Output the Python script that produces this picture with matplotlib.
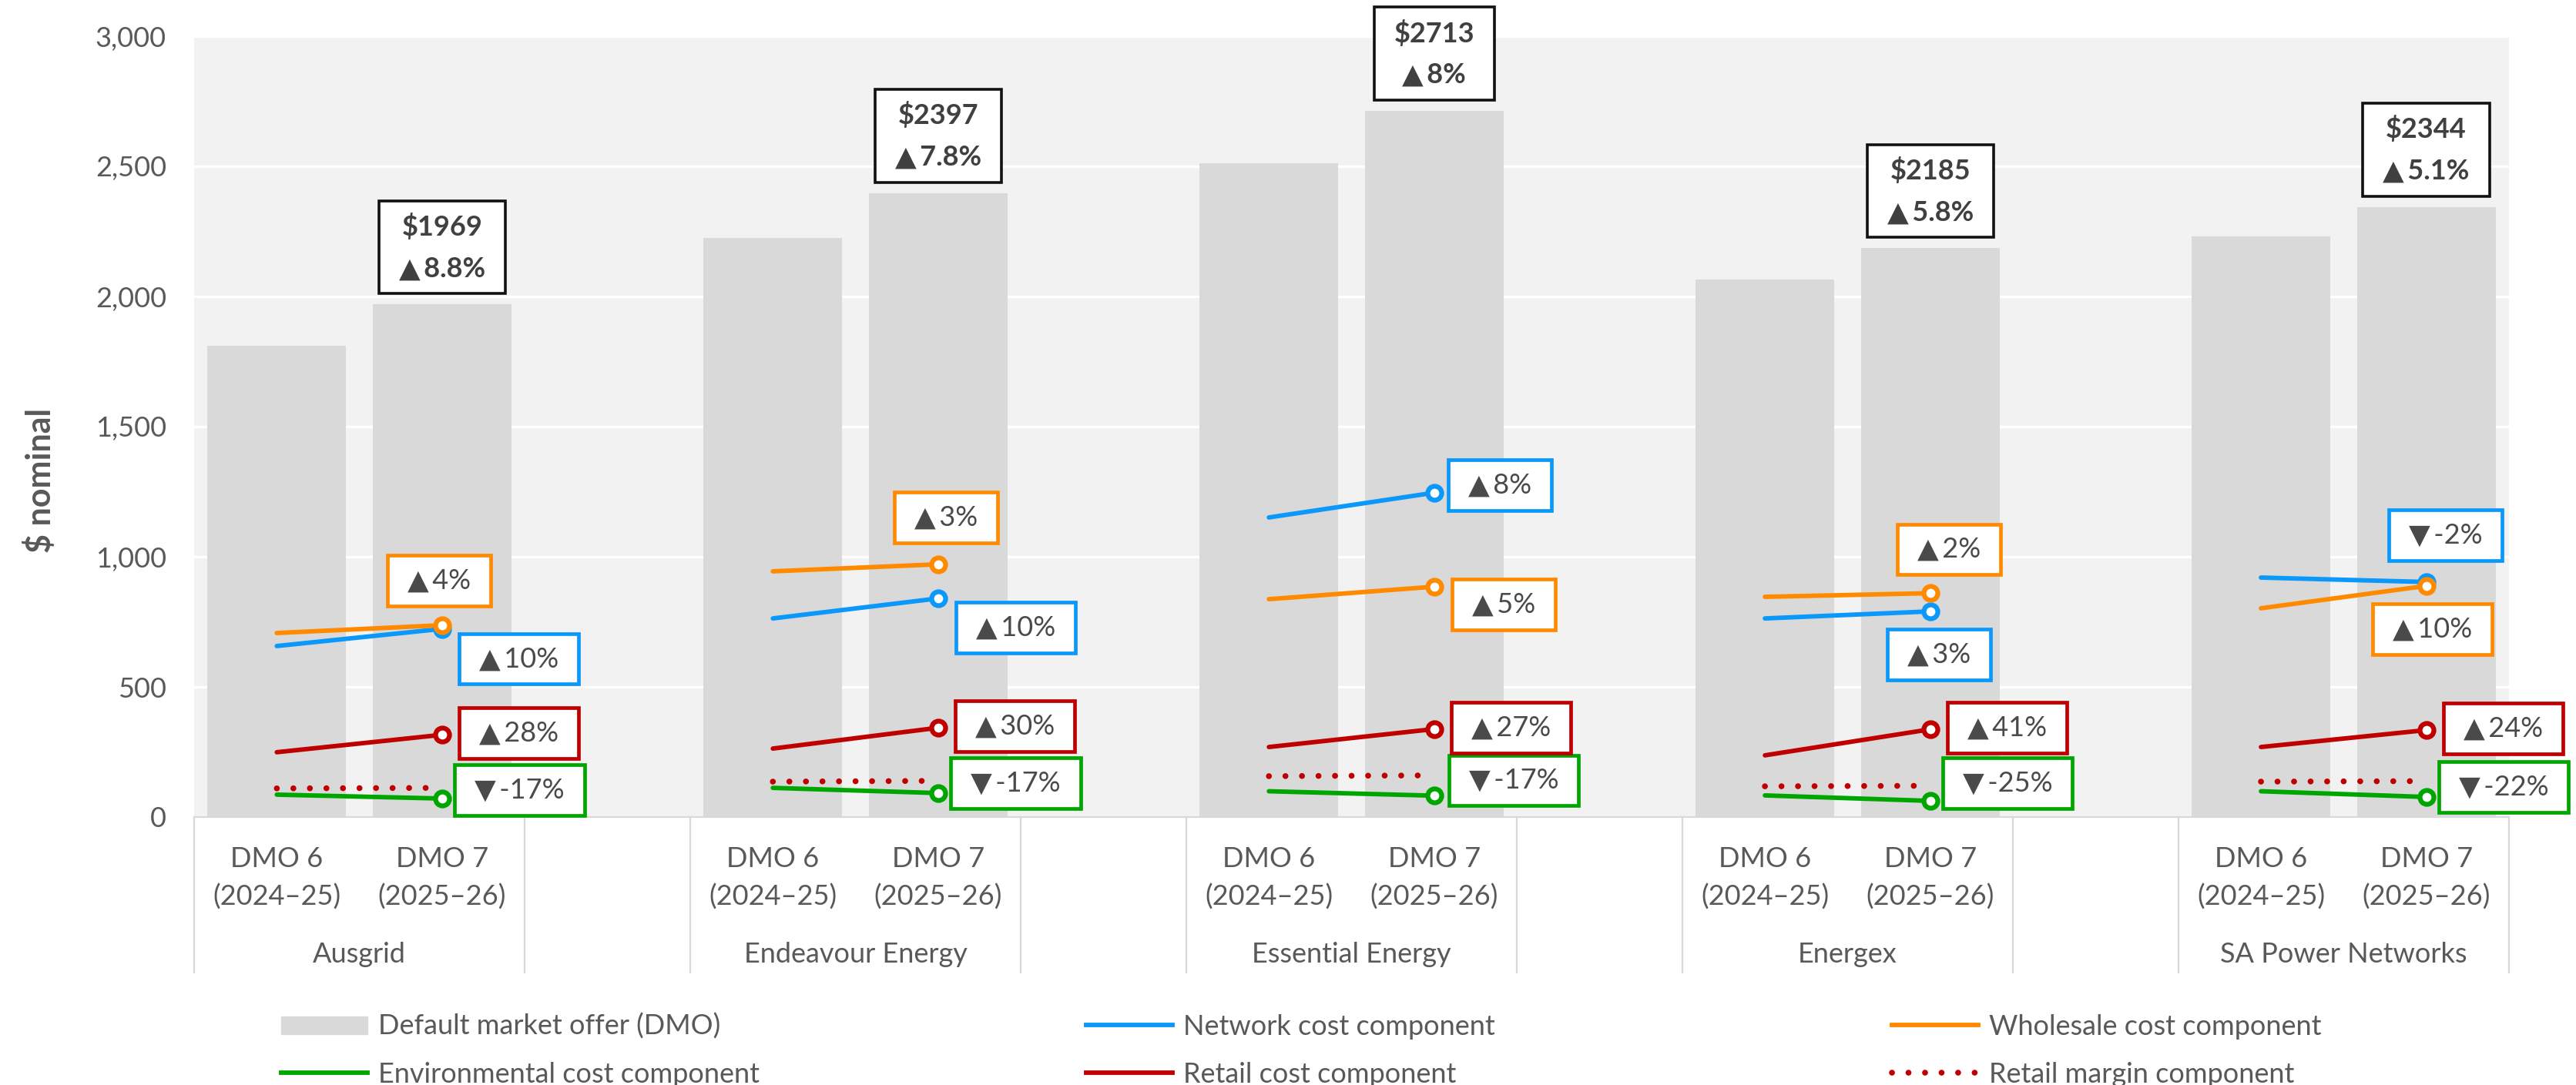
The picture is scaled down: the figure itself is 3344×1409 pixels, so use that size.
import matplotlib
matplotlib.use('Agg')
import matplotlib.pyplot as plt
import matplotlib.transforms as mtransforms
from matplotlib.lines import Line2D
from matplotlib.patches import Patch
from matplotlib.path import Path
import numpy as np

plt.rcParams['font.family'] = ['Lato', 'DejaVu Sans']

# --- data ($ nominal) ---
networks = ['Ausgrid', 'Endeavour Energy', 'Essential Energy', 'Energex', 'SA Power Networks']
period_names = ['DMO 6', 'DMO 7']
period_years = ['(2024–25)', '(2025–26)']

dmo6 = [1810, 2224, 2511, 2066, 2230]
dmo7 = [1969, 2397, 2713, 2185, 2344]
dmo_change = ['8.8%', '7.8%', '8%', '5.8%', '5.1%']

network6 = [657, 763, 1151, 763, 920]
network7 = [723, 840, 1246, 790, 903]
wholesale6 = [707, 944, 837, 846, 802]
wholesale7 = [737, 971, 885, 860, 888]
retail6 = [249, 263, 269, 237, 269]
retail7 = [316, 343, 338, 337, 334]
env6 = [86, 112, 99, 83, 99]
env7 = [71, 92, 82, 62, 77]
margin6 = [110, 136, 157, 118, 136]
margin7 = [112, 139, 160, 120, 138]

network_pct = [10, 10, 8, 3, -2]
wholesale_pct = [4, 3, 5, 2, 10]
retail_pct = [28, 30, 27, 41, 24]
env_pct = [-17, -17, -17, -25, -22]

# --- style ---
W, H = 3344, 1409
FS = 26
GREY_TXT = '#595959'
BLUE, ORANGE, GREEN, RED = '#0A98FA', '#FF8A00', '#00A600', '#C00000'
BAR = '#D9D9D9'
LW = 4.2

# label placement: (mode, dx, dy) in pixels from the DMO 7 point
# 'right' -> dx is gap to box left edge, 'center' -> dx is box centre offset
network_spots = [('right', 22, -39), ('right', 23, -38), ('right', 18, 10), ('center', 11, -56), ('center', 25, 61)]
wholesale_spots = [('center', -4, 58), ('center', 10, 61), ('right', 23, -23), ('center', 24, 57), ('center', 8, -56)]
retail_spots = [('right', 22, 2)] * 5
env_spots = [('right', 16, 11), ('right', 16, 13), ('right', 19, 20), ('right', 16, 23), ('right', 16, 13)]

PADX, PADY = 0.72, 0.45


def wide_box(x0, y0, width, height, mutation_size):
    px, py = PADX * mutation_size, PADY * mutation_size
    return Path([(x0 - px, y0 - py), (x0 + width + px, y0 - py),
                 (x0 + width + px, y0 + height + py), (x0 - px, y0 + height + py),
                 (x0 - px, y0 - py)], closed=True)


fig = plt.figure(figsize=(W / 100, H / 100), dpi=100)
ax = fig.add_axes([252 / W, 1 - 1061 / H, (3257 - 252) / W, (1061 - 47) / H])
ax.set_facecolor('#F2F2F2')
ax.set_xlim(-0.5, 13.5)
ax.set_ylim(0, 3000)
ax.set_yticks(range(0, 3001, 500))
ax.yaxis.set_major_formatter(lambda v, p: f'{v:,.0f}')
ax.tick_params(axis='y', length=0, pad=26, labelsize=FS, labelcolor=GREY_TXT)
ax.set_xticks([])
ax.grid(axis='y', color='white', lw=2.4)
ax.set_axisbelow(True)
for side in ['top', 'right', 'left']:
    ax.spines[side].set_visible(False)
ax.spines['bottom'].set_color(BAR)
ax.spines['bottom'].set_linewidth(1.6)

x6 = np.arange(len(networks)) * 3
x7 = x6 + 1

ax.bar(x6, dmo6, width=0.84, color=BAR, zorder=2)
ax.bar(x7, dmo7, width=0.84, color=BAR, zorder=2)

components = [
    (network6, network7, BLUE, network_pct, network_spots),
    (wholesale6, wholesale7, ORANGE, wholesale_pct, wholesale_spots),
    (env6, env7, GREEN, env_pct, env_spots),
    (retail6, retail7, RED, retail_pct, retail_spots),
]

fs_px = FS * 100 / 72
for v6, v7, col, pct, spots in components:
    for g in range(len(networks)):
        ax.plot([x6[g], x7[g]], [v6[g], v7[g]], color=col, lw=LW, zorder=3,
                solid_capstyle='round')
    ax.plot(x7, v7, ls='none', marker='o', ms=13, mfc='white', mec=col, mew=4.5, zorder=4)
    for g in range(len(networks)):
        mode, dx, dy = spots[g]
        txt = ('▲' if pct[g] > 0 else '▼') + '\u2009' + f'{pct[g]}%'
        if mode == 'right':
            xt, ha = dx + PADX * fs_px, 'left'
        else:
            xt, ha = dx, 'center'
        ax.annotate(txt, xy=(x7[g], v7[g]), xytext=(xt, dy), textcoords='offset pixels',
                    ha=ha, va='center', fontsize=FS, color='#4A4A4A', zorder=6,
                    bbox=dict(boxstyle=wide_box, fc='white', ec=col, lw=3.4))

for g in range(len(networks)):
    ax.plot([x6[g], x7[g]], [margin6[g], margin7[g]], color=RED, lw=5.5,
            ls=(0, (0.01, 2.8)), dash_capstyle='round', zorder=3)

# total DMO labels
for g in range(len(networks)):
    ax.annotate(f'${dmo7[g]}\n▲\u2009{dmo_change[g]}', xy=(x7[g], dmo7[g]),
                xytext=(0, 14 + PADY * fs_px), textcoords='offset pixels',
                ha='center', va='bottom', fontsize=FS, fontweight='bold',
                color='#404040', linespacing=1.75, parse_math=False, zorder=6,
                bbox=dict(boxstyle=wide_box, fc='white', ec='#111111', lw=2.6))

# multi-level category axis
blend = mtransforms.blended_transform_factory(ax.transData, fig.transFigure)
for g in range(len(networks)):
    for k, xx in enumerate([x6[g], x7[g]]):
        ax.text(xx, 1 - 1126 / H, period_names[k], transform=blend, ha='center',
                va='baseline', fontsize=FS, color=GREY_TXT)
        ax.text(xx, 1 - 1176 / H, period_years[k], transform=blend, ha='center',
                va='baseline', fontsize=FS, color=GREY_TXT)
    ax.text(x6[g] + 0.5, 1 - 1250 / H, networks[g], transform=blend, ha='center',
            va='baseline', fontsize=FS, color=GREY_TXT)

for xb in [-0.5, 1.5, 2.5, 4.5, 5.5, 7.5, 8.5, 10.5, 11.5, 13.5]:
    ax.plot([xb, xb], [1 - 1061 / H, 1 - 1263 / H], transform=blend, clip_on=False,
            color=BAR, lw=1.6)

fig.text(52 / W, 1 - 624 / H, '$ nominal', rotation=90, ha='center', va='center',
         fontsize=31, fontweight='bold', color=GREY_TXT, parse_math=False)

# legend, laid out as a 3 x 2 grid
entries = [
    (Patch(color=BAR), 'Default market offer (DMO)', 365, 1333),
    (Line2D([], [], color=BLUE, lw=LW), 'Network cost component', 1410, 1333),
    (Line2D([], [], color=ORANGE, lw=LW), 'Wholesale cost component', 2456, 1333),
    (Line2D([], [], color=GREEN, lw=LW), 'Environmental cost component', 365, 1395),
    (Line2D([], [], color=RED, lw=LW), 'Retail cost component', 1410, 1395),
    (Line2D([], [], color=RED, lw=5.5, ls=(0, (0.01, 2.8)), dash_capstyle='round'),
     'Retail margin component', 2456, 1395),
]
for handle, label, lx, ly in entries:
    fig.legend(handles=[handle], labels=[label], loc='center left',
               bbox_to_anchor=(lx / W, 1 - ly / H), frameon=False, fontsize=FS,
               handlelength=3.1, handleheight=0.6, handletextpad=0.39,
               borderpad=0, borderaxespad=0, labelcolor=GREY_TXT)

fig.savefig('out.png', dpi=100)
